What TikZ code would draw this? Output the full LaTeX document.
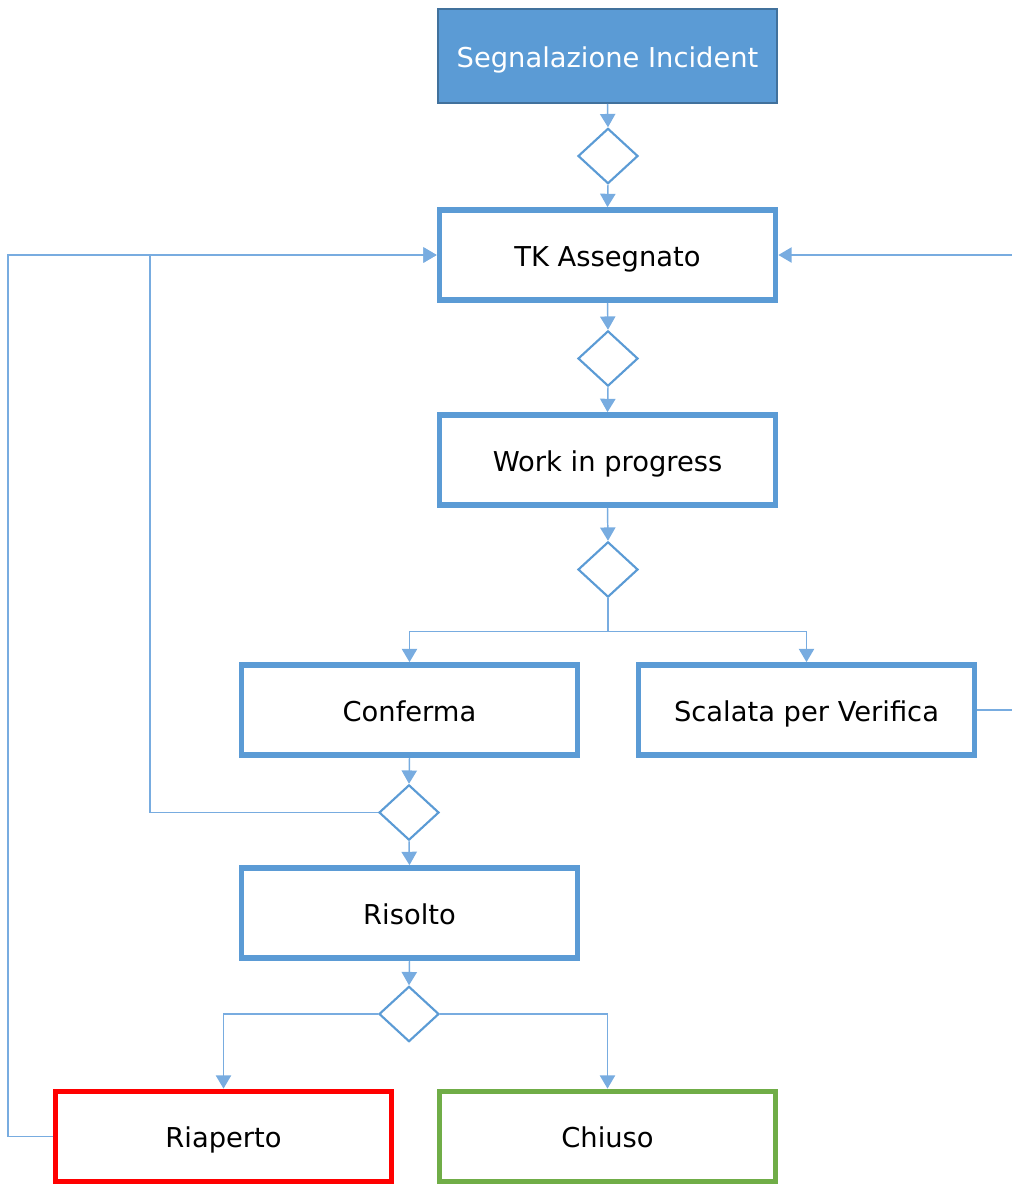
\documentclass[tikz,border=0pt]{standalone}
\usepackage{fontspec}
\setmainfont{DejaVu Sans}
\usetikzlibrary{shapes.geometric,arrows.meta}
\definecolor{acc}{RGB}{91,155,213}
\definecolor{accd}{RGB}{65,113,156}
\definecolor{conn}{RGB}{120,172,224}
\definecolor{rosso}{RGB}{255,0,0}
\definecolor{verde}{RGB}{112,173,71}
\begin{document}
\begin{tikzpicture}[x=0.75pt,y=-0.75pt,
  txt/.style={font=\fontsize{20.5}{22}\selectfont,text height=20.5pt,text depth=3.3pt},
  statebox/.style={txt,draw=acc,line width=4.3pt,fill=white,minimum width=336*0.75pt,minimum height=90*0.75pt,inner sep=0pt},
  startbox/.style={txt,draw=accd,line width=1.2pt,fill=acc,text=white,minimum width=339*0.75pt,minimum height=94*0.75pt,inner sep=0pt},
  gate/.style={diamond,draw=acc,line width=1.6pt,fill=white,minimum width=45pt,minimum height=41.5pt,inner sep=0pt},
  conn/.style={draw=conn,line width=1.1pt},
  arr/.style={conn,-{Triangle[width=11.5pt,length=10pt]}}]
\useasboundingbox (0,0) rectangle (1012,1186);
% nodes
\node[startbox] (seg) at (607.5,56) {Segnalazione Incident};
\node[gate] (g1) at (608,156) {};
\node[statebox] (tk) at (607.5,255) {TK Assegnato};
\node[gate] (g2) at (608,358.5) {};
\node[statebox] (wip) at (607.5,460) {Work in progress};
\node[gate] (g3) at (608,569.5) {};
\node[statebox] (conf) at (409.5,710) {Conferma};
\node[statebox] (scal) at (806.5,710) {Scalata per Verifica};
\node[gate] (g4) at (409,812.5) {};
\node[statebox] (ris) at (409.5,913) {Risolto};
\node[gate] (g5) at (409,1014) {};
\node[statebox,draw=rosso] (ria) at (223.5,1136.5) {Riaperto};
\node[statebox,draw=verde] (chi) at (607.5,1136.5) {Chiuso};
\coordinate (rtop) at (1012,255);
\coordinate (rscal) at (1012,710);
% connectors
\draw[arr] (seg.south) -- (g1.north);
\draw[arr] (g1.south) -- (tk.north);
\draw[arr] (tk.south) -- (g2.north);
\draw[arr] (g2.south) -- (wip.north);
\draw[arr] (wip.south) -- (g3.north);
\draw[arr] (g3.south) -- ++(0,33) -| (conf.north);
\draw[arr] (g3.south) -- ++(0,33) -| (scal.north);
\draw[arr] (conf.south) -- (g4.north);
\draw[arr] (g4.south) -- (ris.north);
\draw[arr] (g4.west) -- (150,812.5) |- (tk.west);
\draw[arr] (ris.south) -- (g5.north);
\draw[arr] (g5.west) -| (ria.north);
\draw[arr] (g5.east) -| (chi.north);
\draw[arr] (ria.west) -- (8,1136.5) |- (tk.west);
\draw[arr] (rtop) -- (tk.east);
\draw[conn] (scal.east) -- (rscal);
\end{tikzpicture}
\end{document}
